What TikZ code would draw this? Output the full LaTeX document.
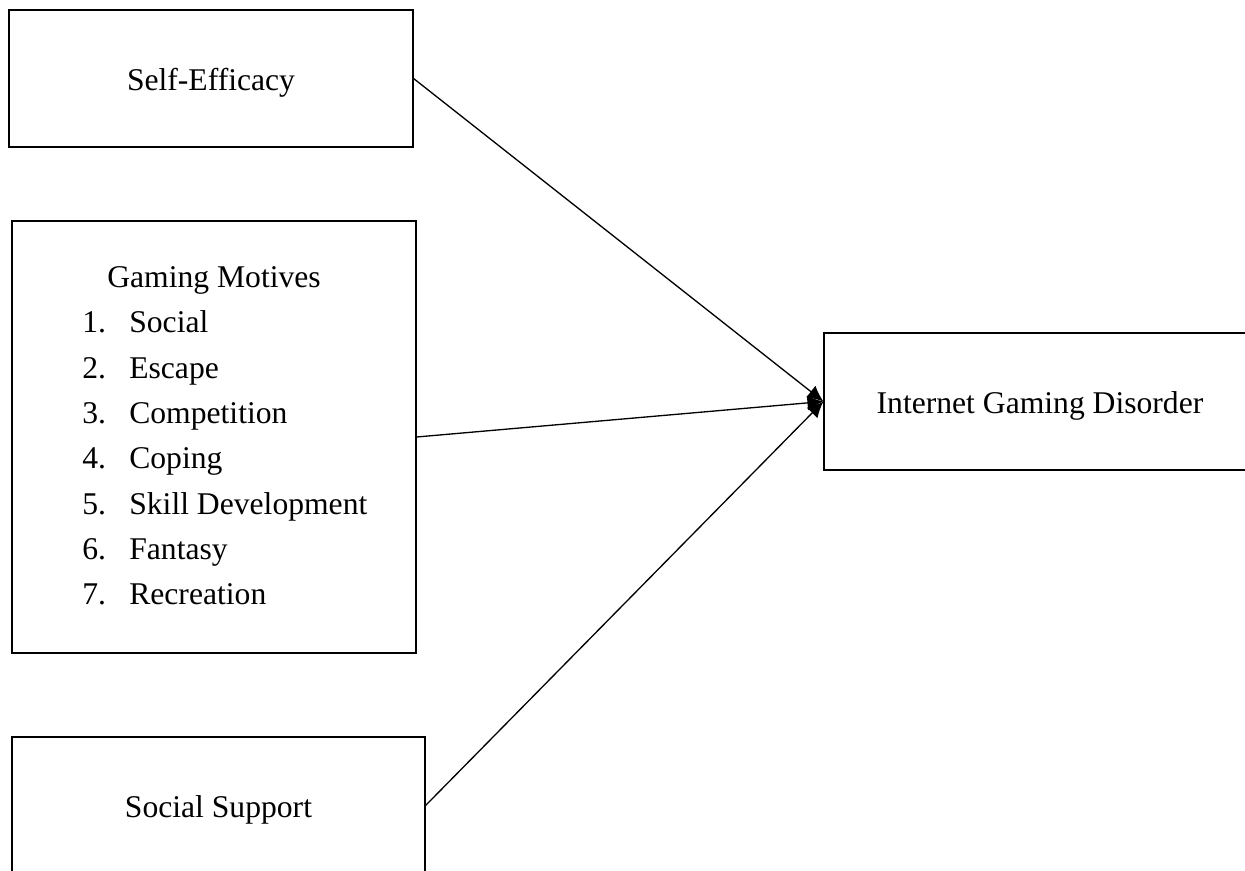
\documentclass[tikz,border=0pt]{standalone}
\usepackage{fontspec}
\setmainfont{Liberation Serif}
\usetikzlibrary{arrows.meta}

\begin{document}
\begin{tikzpicture}[x=0.02cm, y=-0.02cm, thin,
	  factor/.style={rectangle,draw,line width=0.7pt,inner sep=0pt,text height=0.6cm,text depth=0.1cm,font=\fontsize{18}{21.6}\selectfont},
	  motive/.style={anchor=base west,inner sep=0pt,font=\fontsize{18}{21.6}\selectfont},
	  link/.style={-{Latex[length=0.32cm,width=0.3cm]},line width=0.75pt}]
	  \useasboundingbox (0,0) rectangle (1245,871);
	  \node[factor, minimum width=8.08cm, minimum height=2.74cm] (selfeff) at (211,78.5) {Self-Efficacy};
	  \node[factor, minimum width=8.08cm, minimum height=8.64cm] (motives) at (214,437) {};
	  \node[factor, minimum width=8.26cm, minimum height=2.74cm] (support) at (218.5,805.5) {Social Support};
	  \node[factor, minimum width=8.64cm, minimum height=2.74cm] (igd) at (1040,401.5) {Internet Gaming Disorder};
%
	  \node[motive, anchor=base] (head) at (214,288) {Gaming Motives};
	  \node[motive] (m1) at (82,333) {\makebox[0.94cm][l]{1.}Social};
	  \node[motive] (m2) at (82,378.3) {\makebox[0.94cm][l]{2.}Escape};
	  \node[motive] (m3) at (82,423.6) {\makebox[0.94cm][l]{3.}Competition};
	  \node[motive] (m4) at (82,468.9) {\makebox[0.94cm][l]{4.}Coping};
	  \node[motive] (m5) at (82,514.2) {\makebox[0.94cm][l]{5.}Skill Development};
	  \node[motive] (m6) at (82,559.5) {\makebox[0.94cm][l]{6.}Fantasy};
	  \node[motive] (m7) at (82,604.8) {\makebox[0.94cm][l]{7.}Recreation};
%
	  \path[link]
	    (selfeff.east) edge (igd.west)
	    (motives.east) edge (igd.west)
	    (support.east) edge (igd.west);
	\end{tikzpicture}
\end{document}
